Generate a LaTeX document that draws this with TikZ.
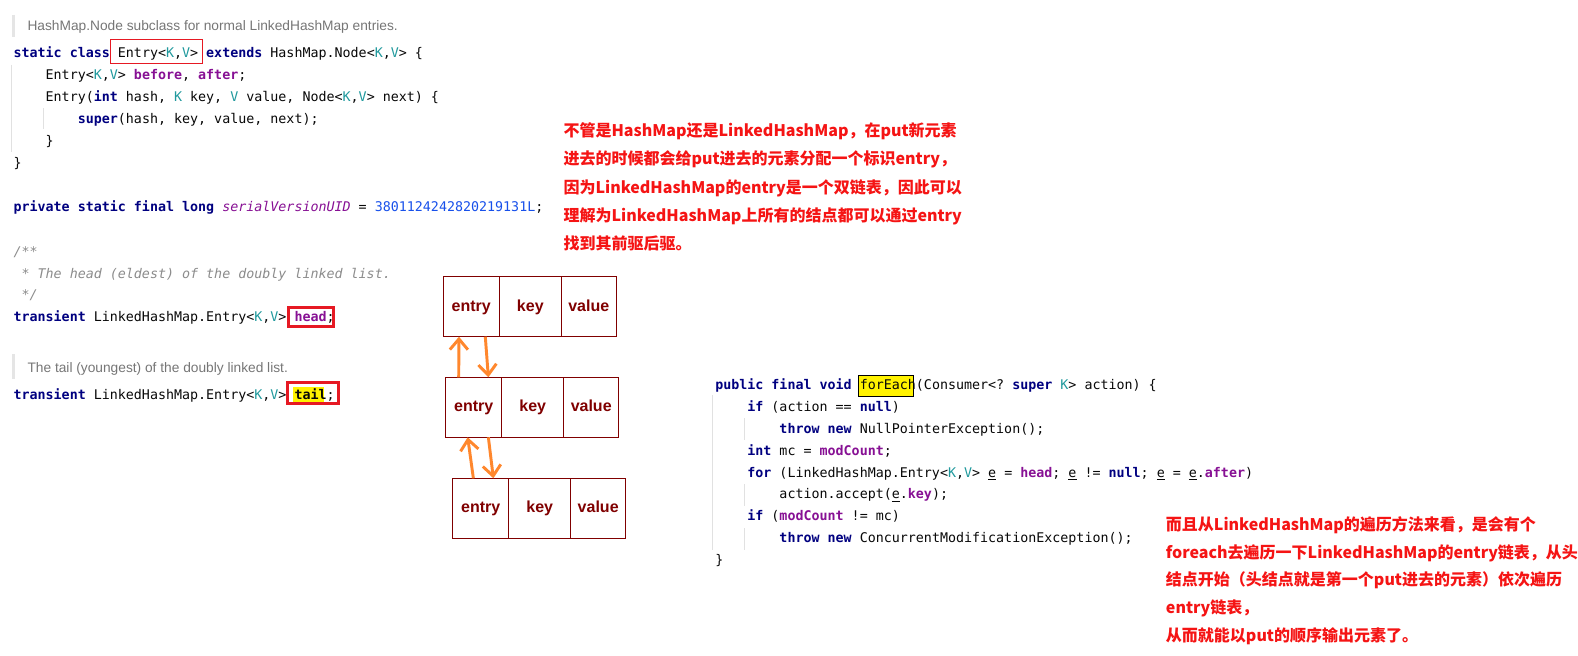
\documentclass[tikz,border=0pt]{standalone}
\usepackage{fontspec}
\setmonofont{DejaVu Sans Mono}
\newfontfamily\docfont{Liberation Sans}
\newfontfamily\cjk{Noto Sans CJK SC}
\usepackage{xcolor}
\usetikzlibrary{arrows.meta, positioning}

\definecolor{kwcol}{RGB}{0,0,128}
\definecolor{tpcol}{RGB}{32,153,157}
\definecolor{fldcol}{RGB}{135,16,148}
\definecolor{numcol}{RGB}{23,80,235}
\definecolor{cmtcol}{RGB}{140,140,140}
\definecolor{doccol}{RGB}{118,118,118}
\definecolor{codeblack}{RGB}{8,8,8}
\definecolor{notered}{RGB}{245,20,20}
\definecolor{cellred}{RGB}{128,0,0}
\definecolor{linkorange}{RGB}{255,135,45}
\definecolor{markred}{RGB}{230,25,35}
\definecolor{guidegray}{RGB}{225,225,225}

\newcommand{\kw}[1]{\textcolor{kwcol}{\bfseries #1}}
\newcommand{\tp}[1]{\textcolor{tpcol}{#1}}
\newcommand{\fld}[1]{\textcolor{fldcol}{\bfseries #1}}
\newcommand{\cnst}[1]{\textcolor{fldcol}{\itshape #1}}
\newcommand{\numlit}[1]{\textcolor{numcol}{#1}}
\newcommand{\cmt}[1]{\textcolor{cmtcol}{\itshape #1}}
\newcommand{\uvar}[1]{\underline{#1}}
\newcommand{\codeind}{\phantom{xxxx}}

\begin{document}
\begin{tikzpicture}[
  x=0.75pt, y=-0.75pt,
  node distance=0pt,
  code/.style={font=\ttfamily\fontsize{10}{16.43}\selectfont, text=codeblack,
               align=left, inner sep=0pt, anchor=base west},
  doc/.style={font=\docfont\fontsize{10.3}{12}\selectfont, text=doccol,
              inner sep=0pt, anchor=base west},
  note/.style={font=\cjk\bfseries\fontsize{12}{21.1}\selectfont, text=notered,
               align=left, inner sep=0pt, anchor=base west},
  cell/.style={draw=cellred, line width=0.8pt, minimum height=45pt,
               inner sep=0pt, outer sep=0pt, text=cellred,
               text height=6.6pt, text depth=0pt,
               font=\docfont\bfseries\fontsize{12}{14}\selectfont},
  entrycell/.style={cell, minimum width=42pt},
  keycell/.style={cell, minimum width=46.5pt},
  valuecell/.style={cell, minimum width=41.25pt},
  link/.style={draw=linkorange, line width=2.2pt,
               -{Straight Barb[length=8pt, width=13.5pt]}},
  docbar/.style={draw=gray!20, line width=2.25pt},
  guide/.style={draw=guidegray, line width=0.75pt},
  markbox/.style={draw=markred, line width=2.25pt},
  hilite/.style={fill=yellow}
]
\useasboundingbox (0,0) rectangle (1578,656);
\fill[white] (0,0) rectangle (1578,656);

\draw[docbar] (13.3,15) -- (13.3,37.3);
\draw[docbar] (13.3,354) -- (13.3,379.3);
\draw[guide] (11.7,65) -- (11.7,151.7);
\draw[guide] (43.3,108.3) -- (43.3,129.3);
\draw[guide] (712.7,395) -- (712.7,550);
\draw[guide] (744,418.3) -- (744,440);
\draw[guide] (744,484) -- (744,506);
\draw[guide] (744,528.3) -- (744,550);

\fill[hilite] (293.3,386.7) rectangle (324,401.7);
\filldraw[hilite, draw=black, line width=0.6pt] (858.5,375) rectangle (913.5,396);

% multi-line nodes sit on the baseline of their last line
\node[doc] (entrydoc) at (27.3,30.7) {HashMap.Node subclass for normal LinkedHashMap entries.};
\node[code] (entrycls) at (13.3,167.3) {%
  \kw{static class} Entry<\tp{K},\tp{V}> \kw{extends} HashMap.Node<\tp{K},\tp{V}> \{\\
  \codeind Entry<\tp{K},\tp{V}> \fld{before}, \fld{after};\\
  \codeind Entry(\kw{int} hash, \tp{K} key, \tp{V} value, Node<\tp{K},\tp{V}> next) \{\\
  \codeind\codeind \kw{super}(hash, key, value, next);\\
  \codeind \}\\
  \}};
\node[code] (uid) at (13.3,211.2) {%
  \kw{private static final long} \cnst{serialVersionUID} = \numlit{3801124242820219131L};};
\node[code] (headdecl) at (13.3,321.9) {%
  \cmt{/**}\\
  \cmt{\phantom{x}* The head (eldest) of the doubly linked list.}\\
  \cmt{\phantom{x}*/}\\
  \kw{transient} LinkedHashMap.Entry<\tp{K},\tp{V}> \fld{head};};
\node[doc] (taildoc) at (27.3,372.5) {The tail (youngest) of the doubly linked list.};
\node[code] (taildecl) at (13.3,399.5) {%
  \kw{transient} LinkedHashMap.Entry<\tp{K},\tp{V}> \textbf{tail};};

\node[code] (foreach) at (715,564.7) {%
  \kw{public final void} forEach(Consumer<? \kw{super} \tp{K}> action) \{\\
  \codeind \kw{if} (action == \kw{null})\\
  \codeind\codeind \kw{throw new} NullPointerException();\\
  \codeind \kw{int} mc = \fld{modCount};\\
  \codeind \kw{for} (LinkedHashMap.Entry<\tp{K},\tp{V}> \uvar{e} = \fld{head}; \uvar{e} != \kw{null}; \uvar{e} = \uvar{e}.\fld{after})\\
  \codeind\codeind action.accept(\uvar{e}.\fld{key});\\
  \codeind \kw{if} (\fld{modCount} != mc)\\
  \codeind\codeind \kw{throw new} ConcurrentModificationException();\\
  \}};

\draw[markred, line width=0.75pt] (110,40) rectangle (202.3,64);
\draw[markbox] (288.5,307.8) rectangle (333.8,326.2);
\draw[markbox] (287.8,382.8) rectangle (338.2,403.9);

\node[entrycell, anchor=north west] (entry1) at (443.3,276.7) {entry};
\node[keycell, right=of entry1] (key1) {key};
\node[valuecell, right=of key1] (value1) {value};
\node[entrycell, anchor=north west] (entry2) at (445.7,377.3) {entry};
\node[keycell, right=of entry2] (key2) {key};
\node[valuecell, right=of key2] (value2) {value};
\node[entrycell, anchor=north west] (entry3) at (452.7,478.3) {entry};
\node[keycell, right=of entry3] (key3) {key};
\node[valuecell, right=of key3] (value3) {value};

\draw[link] ([xshift=9.75pt]entry2.north west) -- ([xshift=11.75pt]entry1.south west);
\draw[link] ([xshift=31.5pt]entry1.south west) -- ([xshift=32pt]entry2.north west);
\draw[link] ([xshift=15.5pt]entry3.north west) -- ([xshift=16.5pt]entry2.south west);
\draw[link] ([xshift=32pt]entry2.south west) -- ([xshift=30.5pt]entry3.north west);

\node[note] (savenote) at (563.3,249.3) {%
  不管是HashMap还是LinkedHashMap，在put新元素\\
  进去的时候都会给put进去的元素分配一个标识entry，\\
  因为LinkedHashMap的entry是一个双链表，因此可以\\
  理解为LinkedHashMap上所有的结点都可以通过entry\\
  找到其前驱后驱。};
\node[note, font=\cjk\bfseries\fontsize{12}{20.7}\selectfont] (iternote) at (1165.7,641) {%
  而且从LinkedHashMap的遍历方法来看，是会有个\\
  foreach去遍历一下LinkedHashMap的entry链表，从头\\
  结点开始（头结点就是第一个put进去的元素）依次遍历\\
  entry链表，\\
  从而就能以put的顺序输出元素了。};
\end{tikzpicture}
\end{document}
